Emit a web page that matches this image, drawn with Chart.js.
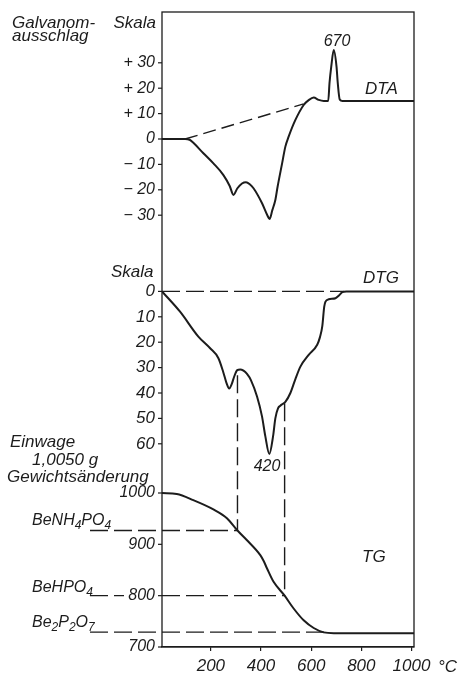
<!DOCTYPE html>
<html>
<head>
<meta charset="utf-8">
<script src="https://cdn.jsdelivr.net/npm/chart.js@4"></script>
<style>
  html, body { margin: 0; padding: 0; background: #fff; }
  #wrap { width: 458px; height: 676px; position: relative; }
</style>
</head>
<body>
<div id="wrap"><canvas id="chart"></canvas></div>
<script>
// ── Data ─────────────────────────────────────────────────────
// DTA trace (galvanometer deflection, scale units)
const dtaTemp  = [5, 97, 115, 130, 170, 210, 250, 275, 290, 305, 324, 340, 355, 370, 404, 425, 434, 445, 457, 466, 484, 497, 510, 537, 570, 590, 610, 630, 650, 668, 673, 680, 690, 701, 706, 714, 725, 1010];
const dtaValue = [0, 0, -0.3, -1.5, -5.6, -9.6, -14.2, -18.5, -22, -19.5, -17.5, -17, -17.8, -19.4, -25.3, -30, -31.5, -28, -24, -18.8, -9.6, -3, 0.9, 7.5, 13.4, 15.3, 16.3, 15.4, 15, 15, 22, 28.5, 35, 28.5, 22, 15.5, 15, 15];
const dtaBaseTemp  = [97, 570];
const dtaBaseValue = [0, 13.8];

// DTG trace (scale units, drawn downwards)
const dtgTemp  = [5, 77, 150, 197, 230, 250, 262, 273, 283, 293, 305, 317, 330, 344, 360, 384, 404, 417, 433, 448, 457, 468, 477, 497, 517, 537, 557, 590, 624, 635, 644, 652, 657, 670, 697, 712, 724, 740, 1010];
const dtgValue = [0, 8, 17.8, 22.4, 26.3, 32, 36, 38.2, 36.5, 33.5, 31, 30.7, 31.2, 32.5, 35, 41.4, 49.3, 57, 64, 57, 50, 46, 45, 43.5, 40, 34.5, 29.6, 25, 21, 18, 13.9, 6, 4, 3.1, 2.7, 1.5, 0.3, 0, 0];
const dtgBaseTemp = [5, 730];

// TG trace (mg)
const tgTemp  = [5, 64, 130, 210, 264, 306, 344, 397, 410, 424, 450, 494, 530, 570, 610, 650, 690, 1010];
const tgValue = [1000, 998, 986, 968, 951, 927, 908, 879, 868, 853, 827, 800, 775, 752, 737, 728.5, 727, 727];

// Stages: BeNH4PO4, BeHPO4, Be2P2O7
const stageTg      = [927, 800, 729];
const stageEndTemp = [306, 494, 660];
// Vertical drop lines from DTG to TG
const dropTemp = [306, 494];
const dropDtg  = [33, 44];
const dropTg   = [927, 800];

// Tick values
const xTicks   = [200, 400, 600, 800, 1000];
const dtaTicks = [30, 20, 10, 0, -10, -20, -30];
const dtgTicks = [0, 10, 20, 30, 40, 50, 60];
const tgTicks  = [1000, 900, 800, 700];

// ── Helpers ──────────────────────────────────────────────────
const ink = "#1c1c1c";
const family = '"Liberation Sans", Arial, sans-serif';
const italic = (size) => `italic ${size}px ${family}`;
const pts = (xs, ys) => xs.map((x, i) => ({ x, y: ys[i] }));
const dash = [18, 6];

function curve(data, axis) {
  return { data, yAxisID: axis, borderColor: ink, borderWidth: 2, pointRadius: 0, fill: false, cubicInterpolationMode: "monotone" };
}
function dashed(data, axis, pattern = dash) {
  return { data, yAxisID: axis, borderColor: ink, borderWidth: 1.4, pointRadius: 0, fill: false, borderDash: pattern };
}

// Chemical formula with subscripts, e.g. "BeNH_4PO_4"
function chem(ctx, str, x, y) {
  let cx = x;
  str.split(/(_\d)/).forEach((part) => {
    if (!part) return;
    const sub = part.startsWith("_");
    const txt = sub ? part.slice(1) : part;
    ctx.font = italic(sub ? 12 : 16);
    ctx.fillText(txt, cx, sub ? y + 4 : y);
    cx += ctx.measureText(txt).width;
  });
}

// ── Frame, stacked y scales, labels ──────────────────────────
const decorations = {
  id: "decorations",
  afterDatasetsDraw(chart) {
    const { ctx, chartArea: a, scales } = chart;
    const xs = scales.x;
    ctx.save();
    ctx.strokeStyle = ink;
    ctx.fillStyle = ink;

    // frame
    ctx.lineWidth = 1.3;
    ctx.strokeRect(a.left, a.top, a.right - a.left, a.bottom - a.top);

    // y ticks drawn along the left edge for all three scales
    const yTicks = (scale, values, fmt, size) => {
      ctx.font = italic(size);
      ctx.textAlign = "right";
      ctx.textBaseline = "middle";
      ctx.lineWidth = 1.2;
      values.forEach((v) => {
        const py = scale.getPixelForValue(v);
        ctx.beginPath(); ctx.moveTo(a.left - 4, py); ctx.lineTo(a.left, py); ctx.stroke();
        ctx.fillText(fmt(v), a.left - 7, py);
      });
    };
    yTicks(scales.yDta, dtaTicks, (v) => (v > 0 ? "+ " + v : v < 0 ? "\u2212 " + -v : "0"), 16);
    yTicks(scales.yDtg, dtgTicks, (v) => String(v), 17);
    yTicks(scales.yTg, tgTicks, (v) => String(v), 16);

    // dashed lines: stage levels left of the axis, drops DTG -> TG
    ctx.setLineDash(dash);
    ctx.lineWidth = 1.4;
    stageTg.forEach((v, i) => {
      const py = scales.yTg.getPixelForValue(v);
      ctx.beginPath();
      ctx.moveTo(a.left - 72, py);
      ctx.lineTo(i === 1 ? a.left - 38 : a.left, py);
      ctx.stroke();
    });
    dropTemp.forEach((t, i) => {
      const px = xs.getPixelForValue(t);
      ctx.beginPath();
      ctx.moveTo(px, scales.yDtg.getPixelForValue(dropDtg[i]));
      ctx.lineTo(px, scales.yTg.getPixelForValue(dropTg[i]));
      ctx.stroke();
    });
    ctx.setLineDash([]);

    // texts
    ctx.textBaseline = "alphabetic";
    ctx.textAlign = "left";
    ctx.font = italic(17);
    ctx.fillText("Galvanom-", 12, 28);
    ctx.fillText("ausschlag", 12, 41);
    ctx.fillText("DTA", 365, 94);
    ctx.fillText("Skala", 111, 277);
    ctx.fillText("DTG", 363, 283);
    ctx.fillText("Einwage", 10, 447);
    ctx.fillText("1,0050 g", 32, 465);
    ctx.fillText("Gewichtsänderung", 7, 482);
    ctx.fillText("TG", 362, 562);
    ctx.fillText("°C", 438, 672);
    ctx.textAlign = "right";
    ctx.fillText("Skala", 156, 28);
    ctx.textAlign = "center";
    ctx.font = italic(16);
    ctx.fillText("670", 337, 46);
    ctx.fillText("420", 267, 471);
    ctx.textAlign = "left";
    chem(ctx, "BeNH_4PO_4", 32, 525);
    chem(ctx, "BeHPO_4", 32, 592);
    chem(ctx, "Be_2P_2O_7", 32, 627);
    ctx.restore();
  },
};

new Chart(document.getElementById("chart"), {
  type: "line",
  data: {
    datasets: [
      curve(pts(dtaTemp, dtaValue), "yDta"),
      dashed(pts(dtaBaseTemp, dtaBaseValue), "yDta", [13, 6]),
      curve(pts(dtgTemp, dtgValue), "yDtg"),
      dashed(pts(dtgBaseTemp, [0, 0]), "yDtg"),
      curve(pts(tgTemp, tgValue), "yTg"),
      ...stageTg.map((v, i) => dashed(pts([5, stageEndTemp[i]], [v, v]), "yTg")),
    ],
  },
  options: {
    responsive: true,
    maintainAspectRatio: false,
    animation: false,
    layout: { padding: { left: 162, right: 44, top: 12, bottom: 0 } },
    plugins: { legend: { display: false }, tooltip: { enabled: false } },
    scales: {
      x: {
        type: "linear",
        min: 5,
        max: 1010,
        afterBuildTicks: (s) => { s.ticks = xTicks.map((v) => ({ value: v })); },
        afterFit: (s) => { s.height = 29; },
        grid: { drawOnChartArea: false, drawTicks: true, tickLength: 4, color: ink, lineWidth: 1.2 },
        border: { display: true, color: ink, width: 1.3 },
        ticks: {
          color: ink,
          font: { family, size: 17, style: "italic" },
          padding: 5,
          maxRotation: 0,
          autoSkip: false,
          callback: (v) => String(v),
        },
      },
      yDta: { type: "linear", display: false, min: -200, max: 50 },
      yDtg: { type: "linear", display: false, min: -110, max: 140, reverse: true },
      yTg:  { type: "linear", display: false, min: 700, max: 1937 },
    },
  },
  plugins: [decorations],
});
</script>
</body>
</html>
